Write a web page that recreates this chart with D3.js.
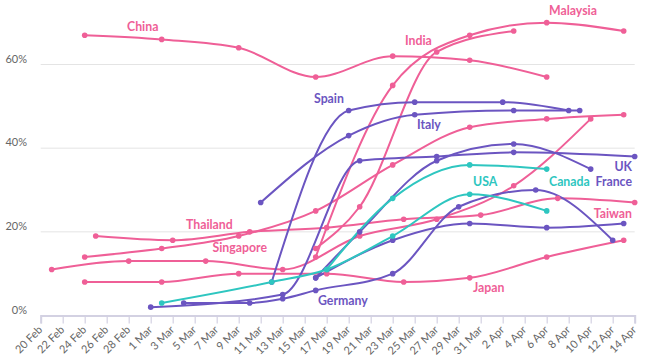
<!DOCTYPE html>
<html><head><meta charset="utf-8">
<script src="https://cdn.jsdelivr.net/npm/d3@7"></script>
<style>
body{margin:0;background:#fff;}
svg{display:block;font-family:Lato,"Open Sans",sans-serif;}
</style></head><body>
<svg id="c" width="650" height="361"></svg>
<script>
// ---- data ----
const tickDates = ["2020-02-20","2020-02-22","2020-02-24","2020-02-26","2020-02-28","2020-03-01","2020-03-03","2020-03-05","2020-03-07","2020-03-09","2020-03-11","2020-03-13","2020-03-15","2020-03-17","2020-03-19","2020-03-21","2020-03-23","2020-03-25","2020-03-27","2020-03-29","2020-03-31","2020-04-02","2020-04-04","2020-04-06","2020-04-08","2020-04-10","2020-04-12","2020-04-14"];
const tickLabels = ["20 Feb","22 Feb","24 Feb","26 Feb","28 Feb","1 Mar","3 Mar","5 Mar","7 Mar","9 Mar","11 Mar","13 Mar","15 Mar","17 Mar","19 Mar","21 Mar","23 Mar","25 Mar","27 Mar","29 Mar","31 Mar","2 Apr","4 Apr","6 Apr","8 Apr","10 Apr","12 Apr","14 Apr"];
const yTicks = [0, 20, 40, 60];

const china     = [["2020-02-24",67],["2020-03-02",66],["2020-03-09",64],["2020-03-16",57],["2020-03-23",62],["2020-03-30",61],["2020-04-06",57]];
const malaysia  = [["2020-03-16",14],["2020-03-23",55],["2020-03-30",67],["2020-04-06",70],["2020-04-13",68]];
const india     = [["2020-03-16",16],["2020-03-20",26],["2020-03-27",63],["2020-04-03",68]];
const thailand  = [["2020-02-24",14],["2020-03-02",16],["2020-03-09",19],["2020-03-16",25],["2020-03-23",36],["2020-03-30",45],["2020-04-06",47],["2020-04-13",48]];
const taiwan    = [["2020-02-25",19],["2020-03-03",18],["2020-03-10",20],["2020-03-17",21],["2020-03-24",23],["2020-03-31",24],["2020-04-07",28],["2020-04-14",27]];
const singapore = [["2020-02-21",11],["2020-02-28",13],["2020-03-06",13],["2020-03-13",11],["2020-03-20",19],["2020-03-27",23],["2020-04-03",31],["2020-04-10",47]];
const japan     = [["2020-02-24",8],["2020-03-02",8],["2020-03-09",10],["2020-03-17",10],["2020-03-24",8],["2020-03-30",9],["2020-04-06",14],["2020-04-13",18]];
const spain     = [["2020-03-12",8],["2020-03-19",49],["2020-03-25",51],["2020-04-02",51],["2020-04-08",49]];
const italy     = [["2020-03-11",27],["2020-03-19",43],["2020-03-25",48],["2020-04-03",49],["2020-04-09",49]];
const uk        = [["2020-03-01",2],["2020-03-13",5],["2020-03-20",37],["2020-03-27",38],["2020-04-03",39],["2020-04-14",38]];
const germany   = [["2020-03-04",3],["2020-03-10",3],["2020-03-13",4],["2020-03-16",6],["2020-03-23",10],["2020-03-29",26],["2020-04-05",30],["2020-04-12",18]];
const france    = [["2020-03-16",9],["2020-03-20",20],["2020-03-27",37],["2020-04-03",41],["2020-04-10",35]];
const sweden    = [["2020-03-16",9],["2020-03-23",18],["2020-03-30",22],["2020-04-06",21],["2020-04-13",22]];
const usa       = [["2020-03-02",3],["2020-03-12",8],["2020-03-17",11],["2020-03-23",19],["2020-03-30",29],["2020-04-06",25]];
const canada    = [["2020-03-17",11],["2020-03-23",28],["2020-03-30",36],["2020-04-06",35]];

// ---- style ----
const PINK = "#ef5f97", PURPLE = "#6b55c1", TEAL = "#2ec6c0";
const series = [
  {data: china, color: PINK}, {data: malaysia, color: PINK}, {data: india, color: PINK},
  {data: thailand, color: PINK}, {data: taiwan, color: PINK}, {data: singapore, color: PINK},
  {data: japan, color: PINK},
  {data: spain, color: PURPLE}, {data: italy, color: PURPLE}, {data: uk, color: PURPLE},
  {data: germany, color: PURPLE}, {data: france, color: PURPLE}, {data: sweden, color: PURPLE},
  {data: usa, color: TEAL}, {data: canada, color: TEAL}
];
const labels = [
  {t:"China", x:127, y:31, a:"start", c:PINK},
  {t:"India", x:405, y:45, a:"start", c:PINK},
  {t:"Malaysia", x:549, y:15, a:"start", c:PINK},
  {t:"Thailand", x:186, y:229, a:"start", c:PINK},
  {t:"Singapore", x:267, y:252, a:"end", c:PINK},
  {t:"Japan", x:473, y:292, a:"start", c:PINK},
  {t:"Taiwan", x:632, y:218, a:"end", c:PINK},
  {t:"Spain", x:314, y:103, a:"start", c:PURPLE},
  {t:"Italy", x:417, y:129, a:"start", c:PURPLE},
  {t:"Germany", x:318, y:305, a:"start", c:PURPLE},
  {t:"UK", x:632, y:171, a:"end", c:PURPLE},
  {t:"France", x:632, y:186, a:"end", c:PURPLE},
  {t:"USA", x:473, y:186, a:"start", c:TEAL},
  {t:"Canada", x:549, y:186, a:"start", c:TEAL}
];

const parse = d3.utcParse("%Y-%m-%d");
const svg = d3.select("#c");
const x = d3.scaleUtc().domain([parse("2020-02-20"), parse("2020-04-14")]).range([40.7, 634.7]);
const y = d3.scaleLinear().domain([0, 60]).range([315.5, 64.5]);

// gridlines
svg.append("g").selectAll("line").data(yTicks.filter(v => v > 0)).join("line")
  .attr("x1", 40.7).attr("x2", 634.7)
  .attr("y1", d => y(d)).attr("y2", d => y(d))
  .attr("stroke", "#e4e4e4").attr("stroke-width", 1);
// y labels
svg.append("g").selectAll("text").data(yTicks).join("text")
  .attr("x", 27).attr("y", d => y(d) - 2)
  .attr("text-anchor", "end").attr("font-size", 11).attr("fill", "#666")
  .text(d => d + "%");

// x axis
const xAxis = d3.axisBottom(x)
  .tickValues(tickDates.map(parse))
  .tickFormat((d, i) => tickLabels[i])
  .tickSize(8).tickPadding(0);
const gx = svg.append("g").attr("transform", `translate(0,${y(0)})`).call(xAxis);
gx.select(".domain").attr("stroke", "#d3d1e2").attr("stroke-width", 2);
gx.selectAll(".tick line").attr("stroke", "#d3d1e2").attr("stroke-width", 1.2);
gx.selectAll(".tick text")
  .attr("font-family", "Lato, sans-serif").attr("font-size", 11).attr("fill", "#666")
  .attr("text-anchor", "end").attr("dy", 0).attr("y", 0)
  .attr("transform", "translate(2,15) rotate(-45)");

// lines
const line = d3.line().x(d => x(parse(d[0]))).y(d => y(d[1])).curve(d3.curveMonotoneX);
const gl = svg.append("g");
series.forEach(s => {
  gl.append("path").attr("d", line(s.data)).attr("fill", "none")
    .attr("stroke", s.color).attr("stroke-width", 2);
});
series.forEach(s => {
  gl.append("g").selectAll("circle").data(s.data).join("circle")
    .attr("cx", d => x(parse(d[0]))).attr("cy", d => y(d[1])).attr("r", 2.8)
    .attr("fill", s.color);
});

// labels
svg.append("g").selectAll("text").data(labels).join("text")
  .attr("x", d => d.x).attr("y", d => d.y).attr("text-anchor", d => d.a)
  .attr("font-size", 12.3).attr("font-weight", 700).attr("fill", d => d.c)
  .text(d => d.t);
</script>
</body></html>
